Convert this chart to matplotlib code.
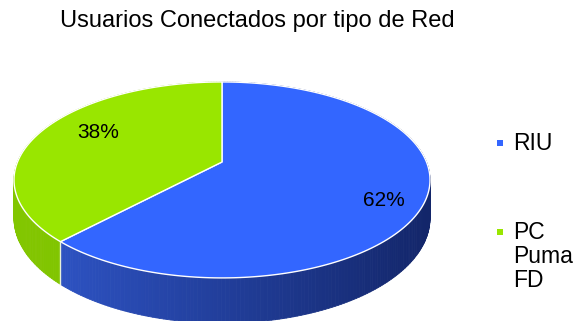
import numpy as np
import matplotlib.pyplot as plt
from matplotlib.collections import PolyCollection
from matplotlib.colors import to_rgb

plt.rcParams['font.family'] = ['Liberation Sans', 'DejaVu Sans']

title = 'Usuarios Conectados por tipo de Red'
labels = ['RIU', 'PC\nPuma\nFD']
values = [62, 38]
top_colors = ['#3366ff', '#99e600']
side_left = ['#3057cc', '#82c600']
side_right = ['#13266a', '#7ab800']
label_radius = [0.83, 0.72]

# pie geometry in pixels (slight perspective: far side smaller)
cx, cy = 222, 162
rx, ry = 204.5, 94.7
persp = 0.183
depth = 37


def project(a, r=1.0, drop=0.0):
    u = r * np.sin(a)
    v = r * np.cos(a)
    w = 1 + persp * v
    return cx + rx * u / w, cy - ry * v / w + drop / w


fig = plt.figure(figsize=(5.8, 3.21), dpi=100)
ax = fig.add_axes([0, 0, 1, 1])
ax.set_xlim(0, 580)
ax.set_ylim(321, 0)
ax.axis('off')

fracs = np.array(values, dtype=float) / sum(values)
bounds = np.concatenate([[0], np.cumsum(fracs)]) * 2 * np.pi

# side wall, drawn back to front with a left-right shading
quads = []
for i in range(len(values)):
    a = np.linspace(bounds[i], bounds[i + 1], int(400 * fracs[i]) + 2)
    xt, yt = project(a)
    xb, yb = project(a, drop=depth)
    c0, c1 = np.array(to_rgb(side_left[i])), np.array(to_rgb(side_right[i]))
    for j in range(len(a) - 1):
        poly = [(xt[j], yt[j]), (xt[j + 1], yt[j + 1]),
                (xb[j + 1], yb[j + 1]), (xb[j], yb[j])]
        t = np.clip(((xt[j] + xt[j + 1]) / 2 - (cx - rx)) / (2 * rx), 0, 1)
        col = c0 + (c1 - c0) * t
        quads.append((np.cos((a[j] + a[j + 1]) / 2), poly, col))
quads.sort(key=lambda q: -q[0])
ax.add_collection(PolyCollection([q[1] for q in quads],
                                 facecolors=[q[2] for q in quads],
                                 edgecolors=[q[2] for q in quads],
                                 linewidths=0.6))

# seams on the visible part of the wall
for b in bounds[:-1]:
    if np.cos(b) < 0:
        x0, y0 = project(b)
        x1, y1 = project(b, drop=depth)
        ax.plot([x0, x1], [y0, y1], color='#e8f0d8', lw=1.0)

# top faces
for i in range(len(values)):
    a = np.linspace(bounds[i], bounds[i + 1], 200)
    xs, ys = project(a)
    pts = np.column_stack([np.r_[cx, xs], np.r_[cy, ys]])
    ax.fill(pts[:, 0], pts[:, 1], facecolor=top_colors[i],
            edgecolor='white', lw=1.0, joinstyle='round')

# percentage labels, nudged a little clockwise from the slice middle
for i in range(len(values)):
    mid = (bounds[i] + bounds[i + 1]) / 2 + 0.1
    lx, ly = project(mid, r=label_radius[i])
    ax.text(lx, ly, f'{values[i]}%', fontsize=15, ha='center', va='center',
            color='black')

ax.text(257, 21, title, fontsize=17, ha='center', va='center')

# legend
for i, lab in enumerate(labels):
    ly = 143 + i * 89
    ax.plot(500, ly, marker='s', markersize=5, color=top_colors[i],
            markeredgewidth=0)
    ax.text(513, ly - 11, lab, fontsize=16.5, ha='left', va='top',
            linespacing=1.05)

fig.savefig('out.png', dpi=100)
